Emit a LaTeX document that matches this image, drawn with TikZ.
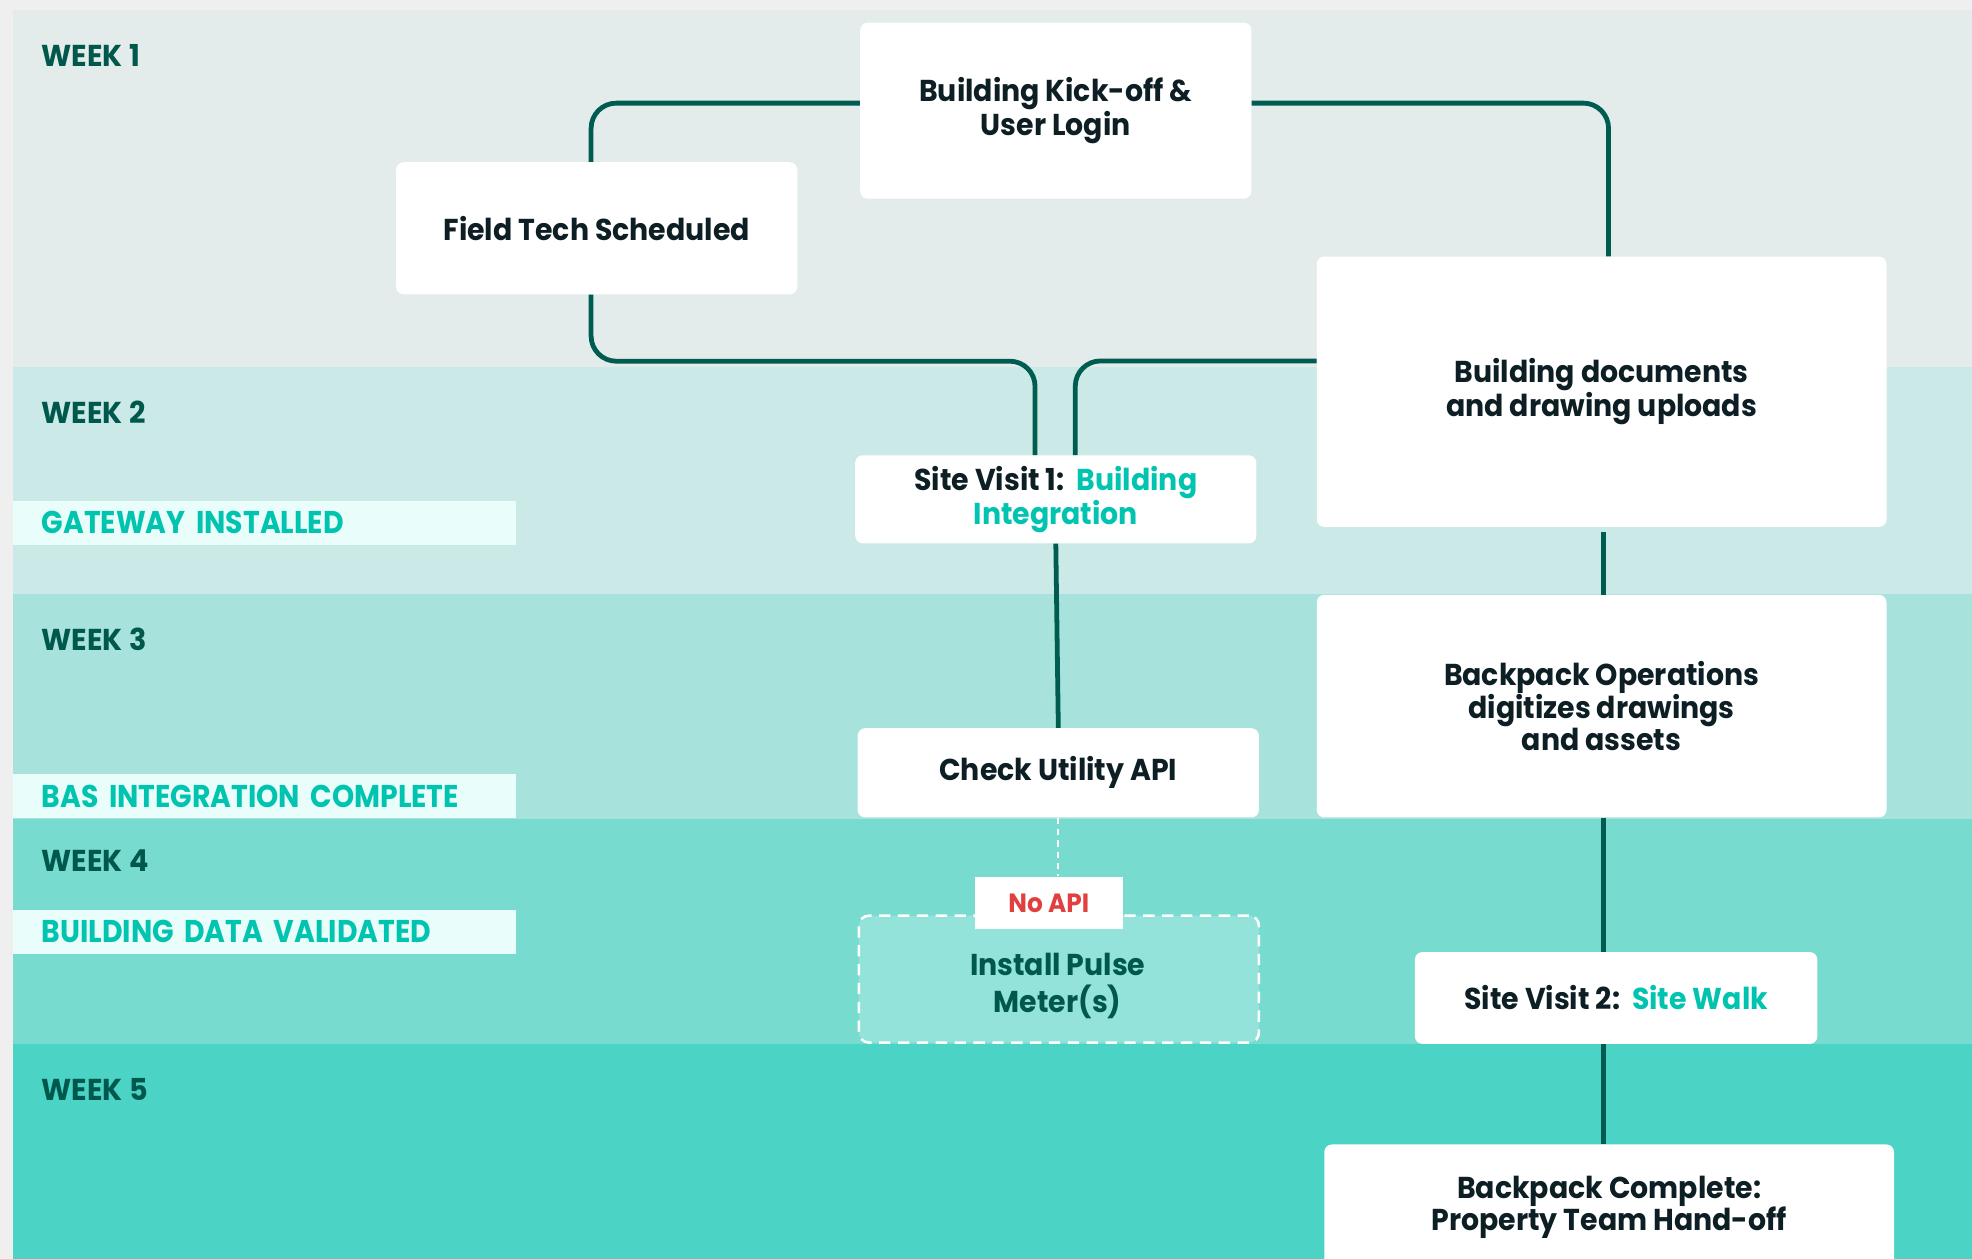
\documentclass[tikz,border=0pt]{standalone}
\usepackage{fontspec}
\setmainfont{Poppins}[FakeStretch=0.94]
\newfontfamily\weekfont{Poppins}[FakeStretch=0.95]
\newfontfamily\milefont{Poppins}[FakeStretch=0.90]
\usetikzlibrary{calc}
\definecolor{outerbg}{HTML}{EFEFEF}
\definecolor{wkA}{HTML}{E3ECEA}
\definecolor{wkB}{HTML}{CBE9E6}
\definecolor{wkC}{HTML}{A7E3DC}
\definecolor{wkD}{HTML}{78DBD0}
\definecolor{wkE}{HTML}{4BD3C6}
\definecolor{milefill}{HTML}{E9FDFB}
\definecolor{miletext}{HTML}{00C4AF}
\definecolor{weektext}{HTML}{00584D}
\definecolor{nodetext}{HTML}{0D1F24}
\definecolor{connc}{HTML}{005C50}
\definecolor{pulsefill}{HTML}{93E3DB}
\definecolor{apired}{HTML}{E0403F}
\tikzset{
  box/.style={fill=white, rounded corners=6pt, align=center, inner sep=0pt,
    text=nodetext, font=\bfseries\fontsize{24}{25.5}\selectfont},
  conn/.style={draw=connc, line width=3.8pt, rounded corners=20pt},
  weeklbl/.style={anchor=west, inner sep=0pt, text=weektext,
    font=\weekfont\bfseries\fontsize{24}{30}\selectfont},
  milebar/.style={fill=milefill, anchor=west, inner ysep=0pt, inner xsep=23pt,
    text width=354pt, align=left, minimum height=35pt, text=miletext,
    font=\milefont\bfseries\fontsize{25}{30}\selectfont},
  pulsebox/.style={fill=pulsefill, draw=white, line width=2pt,
    dash pattern=on 9pt off 6pt, rounded corners=8pt, inner sep=0pt},
}
\begin{document}
\begin{tikzpicture}[x=1pt,y=-1pt]
\useasboundingbox (0,0) rectangle (1568,1001);
\clip (0,0) rectangle (1568,1001);
% background bands
\fill[outerbg] (0,0) rectangle (1568,1001);
\fill[wkA] (10,8) rectangle (1568,292);
\fill[wkB] (10,292) rectangle (1568,472);
\fill[wkC] (10,472) rectangle (1568,651);
\fill[wkD] (10,651) rectangle (1568,830);
\fill[wkE] (10,830) rectangle (1568,1001);
% week labels
\node[weeklbl] (wk1) at (33,44) {WEEK 1};
\node[weeklbl] (wk2) at (33,328) {WEEK 2};
\node[weeklbl] (wk3) at (33,508) {WEEK 3};
\node[weeklbl] (wk4) at (33,684) {WEEK 4};
\node[weeklbl] (wk5) at (33,866) {WEEK 5};
% milestone bars
\node[milebar] (m1) at (10,415.5) {GATEWAY INSTALLED};
\node[milebar] (m2) at (10,633) {BAS INTEGRATION COMPLETE};
\node[milebar] (m3) at (10,741) {BUILDING DATA VALIDATED};
% boxes
\node[box, minimum width=311pt, minimum height=140pt] (ko) at (839.5,88) {Building Kick-off \&\\User Login};
\node[box, minimum width=319pt, minimum height=105pt] (ft) at (474.5,181.5) {Field Tech Scheduled};
\node[box, minimum width=453pt, minimum height=215pt] (bd) at (1273.5,311.5) {Building documents\\and drawing uploads};
\node[box, minimum width=319pt, minimum height=70pt] (sv1) at (839.5,397) {Site Visit 1:\ \ \textcolor{miletext}{Building}\\\textcolor{miletext}{Integration}};
\node[box, minimum width=319pt, minimum height=71pt] (cu) at (841.5,614.5) {Check Utility API};
\node[box, minimum width=453pt, minimum height=177pt] (bo) at (1273.5,561.5) {Backpack Operations\\digitizes drawings\\and assets};
\node[pulsebox, minimum width=318pt, minimum height=101pt] (pm) at (842,778.5) {};
\node[inner sep=0pt, align=center, text=weektext, font=\bfseries\fontsize{24}{29}\selectfont] (pmt) at (841,784) {Install Pulse\\Meter(s)};
\node[fill=white, inner sep=0pt, minimum width=118pt, minimum height=42pt, text=apired, font=\bfseries\fontsize{21}{22}\selectfont] (na) at (834,718) {No API};
\node[box, minimum width=320pt, minimum height=73pt] (sv2) at (1285,793.5) {Site Visit 2:\ \ \textcolor{miletext}{Site Walk}};
\node[box, minimum width=453pt, minimum height=100pt] (bc) at (1279.5,960) {Backpack Complete:\\Property Team Hand-off};
% connectors
\coordinate (spine) at (1275,0);
\draw[conn] ([yshift=6pt]ko.west) -| ([xshift=-4.5pt]ft.north);
\draw[conn] ([yshift=6pt]ko.east) -| ([xshift=5.5pt]bd.north);
\draw[conn] ([xshift=-4.5pt]ft.south) -- ++(0,53) -| ([xshift=-16.5pt]sv1.north);
\draw[conn] ([yshift=24.5pt]bd.west) -| ([xshift=15.5pt]sv1.north);
\draw[conn] (sv1.south) -- (cu.north);
\draw[white, line width=1.8pt, dash pattern=on 5pt off 4pt] (cu.south) -- (cu.south |- na.north);
\draw[conn] ([yshift=-4pt]spine |- bd.south) -- (spine |- bo.north);
\draw[conn] (spine |- bo.south) -- (spine |- sv2.north);
\draw[conn] (spine |- sv2.south) -- (spine |- bc.north);
\end{tikzpicture}
\end{document}
